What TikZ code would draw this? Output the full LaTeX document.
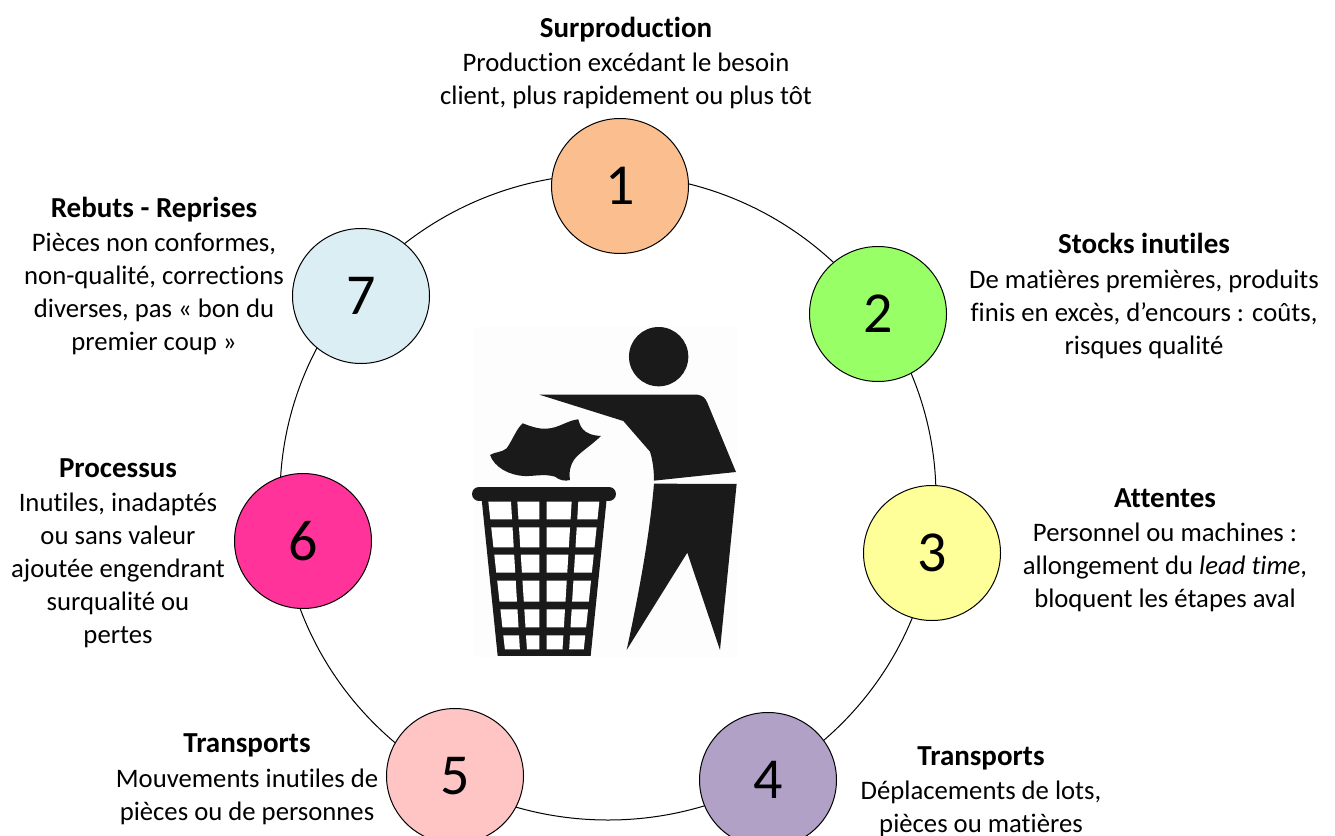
\documentclass[tikz,border=0pt]{standalone}
\usepackage{fontspec}
\setmainfont[Ligatures=NoCommon]{Carlito}
\usetikzlibrary{shapes.geometric}
\definecolor{binblack}{HTML}{1A1A1A}
\tikzset{
  bubble/.style={ellipse,draw=black,line width=1pt,minimum width=137pt,minimum height=135pt,inner sep=0pt,font=\fontsize{58}{58}\selectfont},
  blurb/.style={align=center,inner sep=0pt,font=\fontsize{26.7}{33}\selectfont},
  icon/.style={fill=binblack,draw=none}
}
\newcommand{\ttl}[1]{{\fontsize{29}{33}\selectfont\textbf{#1}}\\[1.5pt]}
\begin{document}
\begin{tikzpicture}[x=1pt,y=-1pt]
\useasboundingbox (0,0) rectangle (1335,835);
\fill[white] (0,0) rectangle (1335,835);
\node[ellipse,draw=black,line width=1pt,minimum width=656pt,minimum height=646pt,inner sep=0pt] (ring) at (608,497) {};
\fill[black!0.7] (473,327) rectangle (737,657);
\begin{scope}[shift={(460,320)},x=0.3333pt,y=-0.3333pt]
  \fill[icon] (596,110) circle (89);
  \fill[icon] (238,224) -- (712,224) .. controls (728,226) and (736,234) .. (742,248) -- (828,456) -- (582,482)
     .. controls (582,450) and (578,420) .. (570,395) -- (490,303) -- cycle;
  \fill[icon] (582,491) -- (830,492) -- (780,990) -- (682,698) -- (500,990)
     .. controls (535,830) and (570,640) .. (582,491) -- cycle;
  \fill[icon] (90,405) .. controls (105,395) and (125,398) .. (140,385)
     .. controls (155,365) and (170,325) .. (188,310)
     .. controls (210,318) and (235,328) .. (260,326)
     .. controls (295,325) and (325,300) .. (355,298)
     .. controls (360,315) and (365,345) .. (423,348)
     .. controls (395,375) and (370,390) .. (350,410)
     .. controls (335,425) and (325,450) .. (330,480)
     .. controls (315,484) and (300,482) .. (285,470)
     .. controls (250,460) and (220,470) .. (190,468)
     .. controls (150,465) and (105,445) .. (90,405) -- cycle;
  \draw[binblack,line width=14pt,line cap=round] (57,522) -- (447,522);
  \fill[icon] (65,538) -- (440,538) -- (392,1008) -- (113,1008) -- cycle;
  \foreach \t/\b in {545/598,622/682,704/758,782/845,868/922,946/988}{
    \fill[white] ({85+.112*(\t-545)},\t) -- ({153+.06*(\t-545)},\t) -- ({153+.06*(\b-545)},\b) -- ({85+.112*(\b-545)},\b) -- cycle;
    \fill[white] ({172+.065*(\t-545)},\t) -- (238,\t) -- (238,\b) -- ({172+.065*(\b-545)},\b) -- cycle;
    \fill[white] (260,\t) -- ({335-.062*(\t-545)},\t) -- ({335-.062*(\b-545)},\b) -- (260,\b) -- cycle;
    \fill[white] ({355-.062*(\t-545)},\t) -- ({418-.105*(\t-545)},\t) -- ({418-.105*(\b-545)},\b) -- ({355-.062*(\b-545)},\b) -- cycle;
  }
\end{scope}
\node[bubble,fill={rgb,255:red,251;green,191;blue,143}] (n1) at (620,186) {1};
\node[bubble,fill={rgb,255:red,153;green,255;blue,102}] (n2) at (878,314) {2};
\node[bubble,fill={rgb,255:red,255;green,255;blue,153}] (n3) at (932,553) {3};
\node[bubble,fill={rgb,255:red,178;green,161;blue,199}] (n4) at (768,780) {4};
\node[bubble,fill={rgb,255:red,255;green,197;blue,197}] (n5) at (455,776) {5};
\node[bubble,fill={rgb,255:red,255;green,51;blue,153}] (n6) at (303,541) {6};
\node[bubble,fill={rgb,255:red,219;green,238;blue,244}] (n7) at (361,296) {7};
\node[blurb] (t1) at (626,63) {\ttl{Surproduction}Production excédant le besoin\\client, plus rapidement ou plus tôt};
\node[blurb] (t2) at (1144,296) {\ttl{Stocks inutiles}De matières premières, produits\\finis en excès, d’encours : coûts,\\risques qualité};
\node[blurb] (t3) at (1165,550) {\ttl{Attentes}Personnel ou machines :\\allongement du \textit{lead time},\\bloquent les étapes aval};
\node[blurb] (t4) at (981,791.5) {\ttl{Transports}Déplacements de lots,\\pièces ou matières};
\node[blurb] (t5) at (247,779) {\ttl{Transports}Mouvements inutiles de\\pièces ou de personnes};
\node[blurb] (t6) at (118,553) {\ttl{Processus}Inutiles, inadaptés\\ou sans valeur\\ajoutée engendrant\\surqualité ou\\pertes};
\node[blurb] (t7) at (154,276) {\ttl{Rebuts - Reprises}Pièces non conformes,\\non-qualité, corrections\\diverses, pas « bon du\\premier coup »};
\end{tikzpicture}
\end{document}
